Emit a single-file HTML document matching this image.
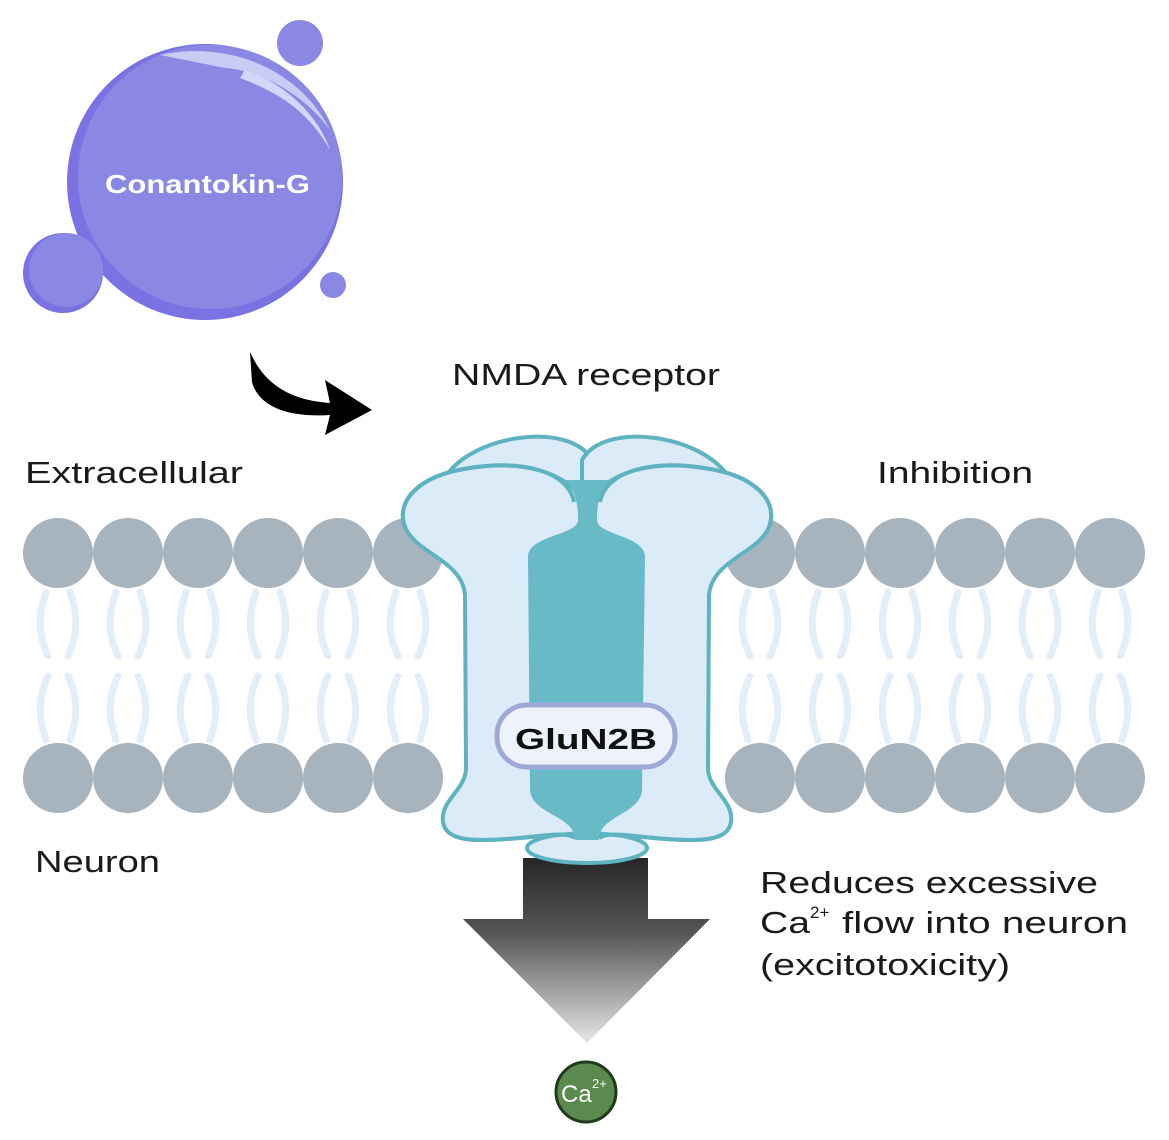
<!DOCTYPE html>
<html><head><meta charset="utf-8"><style>
html,body{margin:0;padding:0;background:#fff;}
svg{display:block;}
text{font-family:"Liberation Sans",Arial,sans-serif;}
</style></head><body>
<svg width="1169" height="1140" viewBox="0 0 1169 1140" xmlns="http://www.w3.org/2000/svg">
<defs>
<linearGradient id="ag" gradientUnits="userSpaceOnUse" x1="0" y1="858" x2="0" y2="1043">
<stop offset="0" stop-color="#262626"/><stop offset="0.4" stop-color="#555"/><stop offset="1" stop-color="#e6e6e6"/>
</linearGradient>
<g id="tail">
<path d="M-12 592 C-20 615 -20 635 -10 656" stroke="#e3eefa" stroke-width="7" fill="none" stroke-linecap="round"/>
<path d="M12 592 C20 615 20 635 10 656" stroke="#e3eefa" stroke-width="7" fill="none" stroke-linecap="round"/>
<path d="M-10 676 C-20 697 -20 717 -12 740" stroke="#e3eefa" stroke-width="7" fill="none" stroke-linecap="round"/>
<path d="M10 676 C20 697 20 717 12 740" stroke="#e3eefa" stroke-width="7" fill="none" stroke-linecap="round"/>
</g>
</defs>

<!-- Conantokin-G -->
<circle cx="205" cy="182" r="138" fill="#7a72e2"/>
<circle cx="210" cy="177" r="132" fill="#8b88e4"/>
<path d="M160 55 C230 40 300 70 330 130 C305 95 260 70 225 68 Z" fill="#c8cbf4"/>
<path d="M245 70 C290 85 320 120 330 150 C310 115 285 95 240 78 Z" fill="#d4d6f7"/>
<circle cx="300" cy="43" r="23" fill="#8b88e4"/>
<circle cx="63" cy="273" r="40" fill="#7a72e2"/>
<circle cx="66" cy="270" r="37" fill="#8b88e4"/>
<circle cx="333" cy="285" r="13" fill="#8b88e4"/>
<text x="105" y="193" font-size="26" font-weight="bold" fill="#fff" textLength="205" lengthAdjust="spacingAndGlyphs">Conantokin-G</text>

<!-- curved arrow -->
<path d="M250 352 C265 385 290 400 330 403 L325 380 L372 410 L325 435 L330 415 C285 418 258 405 252 382 Z" fill="#000"/>

<text x="452" y="385" font-size="31" fill="#1a1a1a" textLength="268" lengthAdjust="spacingAndGlyphs">NMDA receptor</text>
<text x="25" y="483" font-size="31" fill="#1a1a1a" textLength="218" lengthAdjust="spacingAndGlyphs">Extracellular</text>
<text x="877" y="483" font-size="31" fill="#1a1a1a" textLength="156" lengthAdjust="spacingAndGlyphs">Inhibition</text>
<text x="35" y="872" font-size="31" fill="#1a1a1a" textLength="125" lengthAdjust="spacingAndGlyphs">Neuron</text>
<text x="760" y="893" font-size="31" fill="#1a1a1a" textLength="338" lengthAdjust="spacingAndGlyphs">Reduces excessive</text>
<text x="760" y="933" font-size="31" fill="#1a1a1a" textLength="50" lengthAdjust="spacingAndGlyphs">Ca</text>
<text x="810" y="918" font-size="17" fill="#1a1a1a">2+</text>
<text x="842" y="933" font-size="31" fill="#1a1a1a" textLength="286" lengthAdjust="spacingAndGlyphs">flow into neuron</text>
<text x="760" y="975" font-size="31" fill="#1a1a1a" textLength="250" lengthAdjust="spacingAndGlyphs">(excitotoxicity)</text>

<!-- membrane -->
<g>
<use href="#tail" x="58"/><use href="#tail" x="128"/><use href="#tail" x="198"/><use href="#tail" x="268"/><use href="#tail" x="338"/><use href="#tail" x="408"/>
<use href="#tail" x="760"/><use href="#tail" x="830"/><use href="#tail" x="900"/><use href="#tail" x="970"/><use href="#tail" x="1040"/><use href="#tail" x="1110"/>
</g>
<g fill="#a7b4bd">
<circle cx="58" cy="553" r="35"/><circle cx="128" cy="553" r="35"/><circle cx="198" cy="553" r="35"/><circle cx="268" cy="553" r="35"/><circle cx="338" cy="553" r="35"/><circle cx="408" cy="553" r="35"/>
<circle cx="760" cy="553" r="35"/><circle cx="830" cy="553" r="35"/><circle cx="900" cy="553" r="35"/><circle cx="970" cy="553" r="35"/><circle cx="1040" cy="553" r="35"/><circle cx="1110" cy="553" r="35"/>
<circle cx="58" cy="778" r="35"/><circle cx="128" cy="778" r="35"/><circle cx="198" cy="778" r="35"/><circle cx="268" cy="778" r="35"/><circle cx="338" cy="778" r="35"/><circle cx="408" cy="778" r="35"/>
<circle cx="760" cy="778" r="35"/><circle cx="830" cy="778" r="35"/><circle cx="900" cy="778" r="35"/><circle cx="970" cy="778" r="35"/><circle cx="1040" cy="778" r="35"/><circle cx="1110" cy="778" r="35"/>
</g>

<!-- down arrow -->
<path d="M523 858 L648 858 L648 919 L710 919 L587 1043 L463 919 L523 919 Z" fill="url(#ag)"/>
<circle cx="586" cy="1092" r="30" fill="#5a8a4e" stroke="#1f3a1c" stroke-width="3"/>
<text x="561" y="1102" font-size="24" fill="#fff">Ca</text>
<text x="592" y="1088" font-size="13" fill="#fff">2+</text>

<!-- receptor -->
<g stroke="#5fb3c0" stroke-width="4" fill="#dcebf8" stroke-linejoin="round">
<ellipse cx="587" cy="848" rx="60" ry="15"/>
<path d="M445 478 C470 435 570 420 592 460 L592 500 L470 500 Z"/>
<path d="M729 478 C704 435 604 420 582 460 L582 500 L704 500 Z"/>
<path d="M587 508 C570 470 520 460 470 468 C420 475 395 500 405 527 C415 553 462 560 465 595 L466 768 C466 790 440 800 443 822 C446 842 475 842 520 838 C545 836 565 835 587 832 Z"/>
<path d="M587 508 C604 470 654 460 704 468 C754 475 779 500 769 527 C759 553 712 560 709 595 L708 768 C708 790 734 800 731 822 C728 842 699 842 654 838 C629 836 609 835 587 832 Z"/>
</g>
<path d="M566 480 C576 492 578 505 578 520 C578 535 530 535 528 556 L530 790 C532 815 575 815 575 840 L599 840 C599 815 640 815 642 790 L645 556 C643 535 597 535 597 520 C597 505 599 492 609 480 Z" fill="#68bac6"/>
<path d="M405 527 C395 500 420 475 470 468 C520 460 568 470 574 502" stroke="#5fb3c0" stroke-width="4" fill="none"/>
<path d="M769 527 C779 500 754 475 704 468 C654 460 606 470 600 502" stroke="#5fb3c0" stroke-width="4" fill="none"/>
<path d="M443 822 C446 842 475 842 520 838 C548 835 566 832 575 838" stroke="#5fb3c0" stroke-width="4" fill="none"/>
<path d="M731 822 C728 842 699 842 654 838 C626 835 608 832 599 838" stroke="#5fb3c0" stroke-width="4" fill="none"/>
<rect x="497" y="705" width="178" height="62" rx="30" fill="#eef3fb" stroke="#a0a8d8" stroke-width="5"/>
<text x="515" y="749" font-size="29" font-weight="bold" fill="#111" textLength="142" lengthAdjust="spacingAndGlyphs">GluN2B</text>
</svg>
</body></html>
